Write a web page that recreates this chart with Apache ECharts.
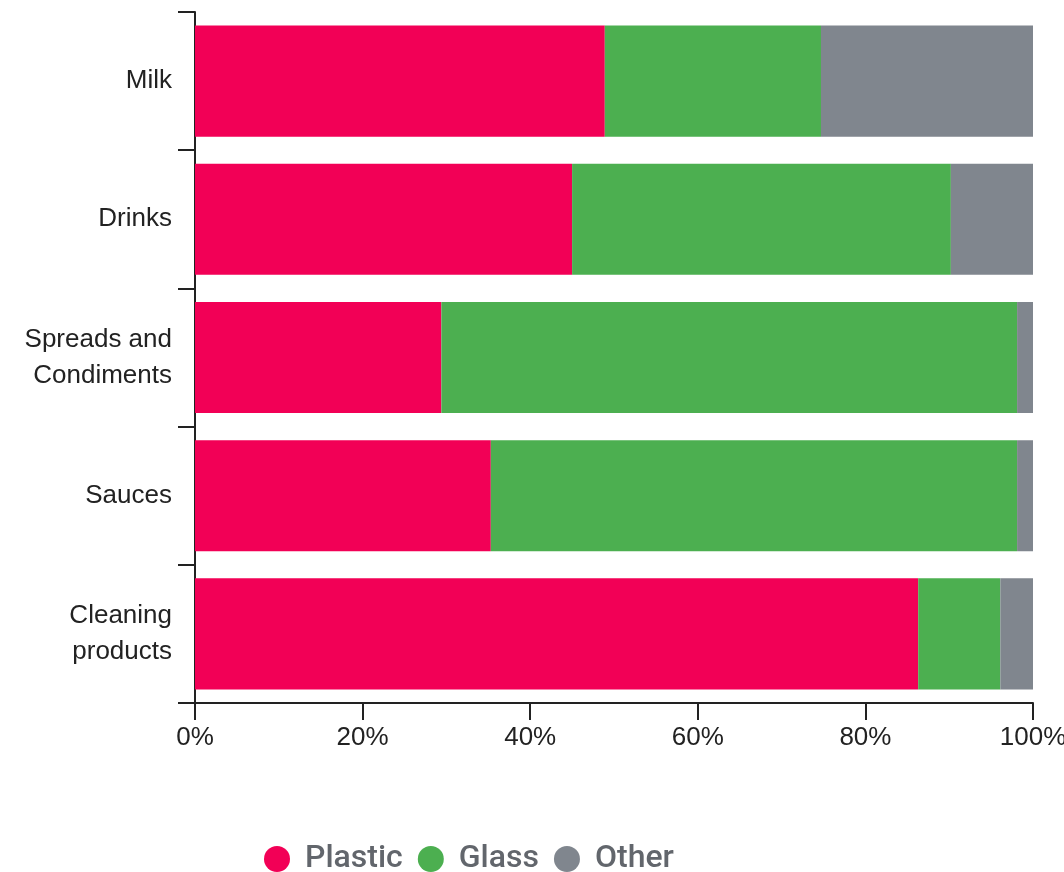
<!DOCTYPE html>
<html>
<head>
<meta charset="utf-8">
<script src="https://cdn.jsdelivr.net/npm/echarts@6/dist/echarts.min.js"></script>
<style>html,body{margin:0;padding:0;background:#fff}#c{width:1064px;height:872px}</style>
</head>
<body>
<div id="c"></div>
<script>
const categories = ["Milk", "Drinks", "Spreads and\nCondiments", "Sauces", "Cleaning\nproducts"];
const plastic = [48.9, 45.0, 29.4, 35.3, 86.3];
const glass = [25.8, 45.2, 68.7, 62.8, 9.8];
const other = [25.3, 9.8, 1.9, 1.9, 3.9];
const xTicks = [0, 20, 40, 60, 80, 100];

const chart = echarts.init(document.getElementById('c'));
const font = 'Liberation Sans, Arial, sans-serif';
function s(name, data, color) {
  return { name, type: 'bar', stack: 'a', data, itemStyle: { color }, barCategoryGap: '19.6%', emphasis: { disabled: true } };
}
chart.setOption({
  animation: false,
  grid: { left: 195, right: 31, top: 12, bottom: 169, containLabel: false, outerBoundsMode: 'none' },
  legend: {
    top: 838, left: 259, icon: 'circle', itemWidth: 46, itemHeight: 26, itemGap: 15,
    textStyle: { fontSize: 32, fontWeight: 500, color: '#62666c', fontFamily: 'Roboto, Arial, sans-serif' },
    data: ['Plastic', 'Glass', 'Other']
  },
  xAxis: {
    type: 'value', min: 0, max: 100, interval: 20,
    splitLine: { show: false },
    axisLine: { show: true, lineStyle: { color: '#222', width: 2 } },
    axisTick: { show: true, length: 17, lineStyle: { color: '#222', width: 2 } },
    axisLabel: { formatter: v => xTicks.includes(v) ? v + '%' : '', fontSize: 26, color: '#222', margin: 22, fontFamily: font, hideOverlap: false }
  },
  yAxis: {
    type: 'category', data: categories, inverse: true,
    axisLine: { show: true, lineStyle: { color: '#222', width: 2 } },
    axisTick: { show: true, length: 17, lineStyle: { color: '#222', width: 2 } },
    axisLabel: { fontSize: 26, color: '#222', margin: 23, lineHeight: 36, fontFamily: font, align: 'right' }
  },
  series: [s('Plastic', plastic, '#F20056'), s('Glass', glass, '#4CAF50'), s('Other', other, '#80868E')]
});
</script>
</body>
</html>
